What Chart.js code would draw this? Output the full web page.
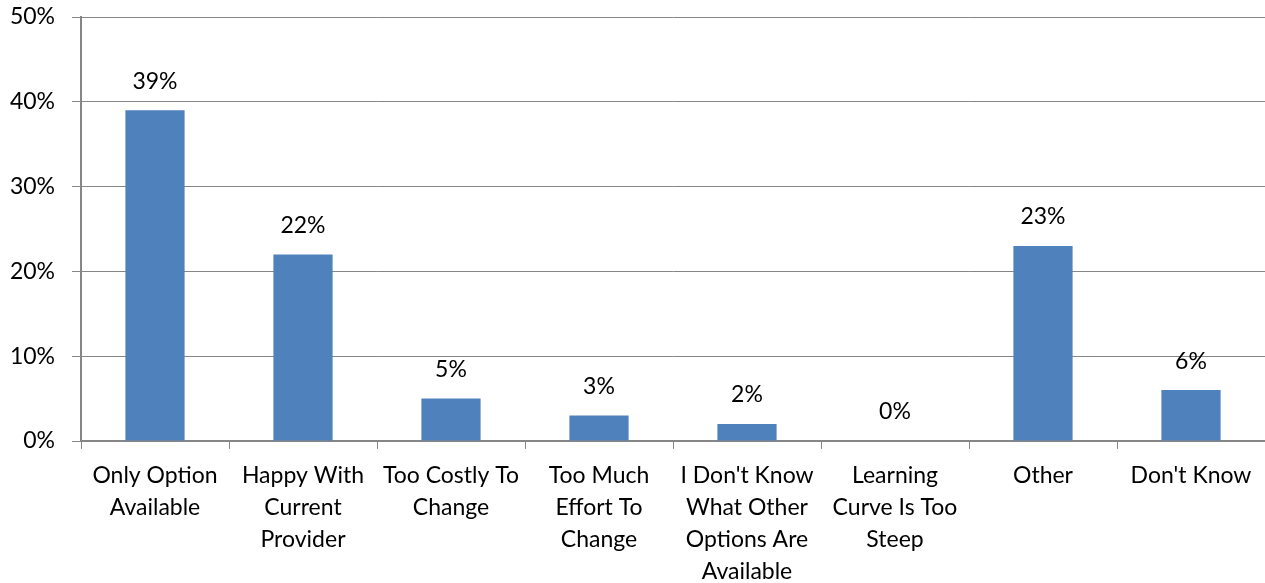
<!DOCTYPE html>
<html>
<head>
<meta charset="utf-8">
<script src="https://cdn.jsdelivr.net/npm/chart.js@4/dist/chart.umd.min.js"></script>
<style>
html,body{margin:0;padding:0;background:#fff;}
#wrap{width:1265px;height:583px;position:relative;}
</style>
</head>
<body>
<div id="wrap"><canvas id="c" width="1265" height="583"></canvas></div>
<script>
const categories = [
  ["Only Option", "Available"],
  ["Happy With", "Current", "Provider"],
  ["Too Costly To", "Change"],
  ["Too Much", "Effort To", "Change"],
  ["I Don't Know", "What Other", "Options Are", "Available"],
  ["Learning", "Curve Is Too", "Steep"],
  ["Other"],
  ["Don't Know"]
];
const values = [39, 22, 5, 3, 2, 0, 23, 6];
const yTicks = [0, 10, 20, 30, 40, 50];

const FONT = "Lato, 'Open Sans', sans-serif";

const valueLabels = {
  id: 'valueLabels',
  afterDatasetsDraw(chart) {
    const ctx = chart.ctx;
    const meta = chart.getDatasetMeta(0);
    ctx.save();
    ctx.font = "23px " + FONT;
    ctx.fillStyle = "#000";
    ctx.textAlign = "center";
    ctx.textBaseline = "middle";
    meta.data.forEach((bar, i) => {
      ctx.fillText(values[i] + "%", bar.x, bar.y - 29);
    });
    ctx.restore();
  }
};

new Chart(document.getElementById('c'), {
  type: 'bar',
  data: {
    labels: categories,
    datasets: [{
      data: values,
      backgroundColor: '#4F81BD',
      borderWidth: 0,
      barPercentage: 0.4,
      categoryPercentage: 1.0
    }]
  },
  options: {
    responsive: false,
    animation: false,
    devicePixelRatio: 1,
    layout: { padding: { top: 17, right: 0, left: 0, bottom: 0 } },
    plugins: { legend: { display: false }, tooltip: { enabled: false } },
    scales: {
      x: {
        grid: { display: true, drawOnChartArea: false, drawTicks: true, tickLength: 8, color: '#868686', lineWidth: 1, offset: true },
        border: { display: true, color: '#868686', width: 2 },
        ticks: { color: '#000', font: { size: 23, family: FONT, lineHeight: 1.4 }, padding: 10, maxRotation: 0, autoSkip: false },
        afterFit(scale) { scale.height = 142; scale.paddingLeft = 0; scale.paddingRight = 0; }
      },
      y: {
        min: 0, max: 50,
        afterBuildTicks(scale) { scale.ticks = yTicks.map(v => ({ value: v })); },
        grid: { color: '#868686', lineWidth: 1, tickLength: 9, drawTicks: true },
        border: { display: true, color: '#868686', width: 2 },
        ticks: { color: '#000', font: { size: 23, family: FONT }, padding: 17, callback: v => v + '%' },
        afterFit(scale) { scale.width = 81; scale.paddingTop = 0; scale.paddingBottom = 0; }
      }
    }
  },
  plugins: [valueLabels]
});
</script>
</body>
</html>
